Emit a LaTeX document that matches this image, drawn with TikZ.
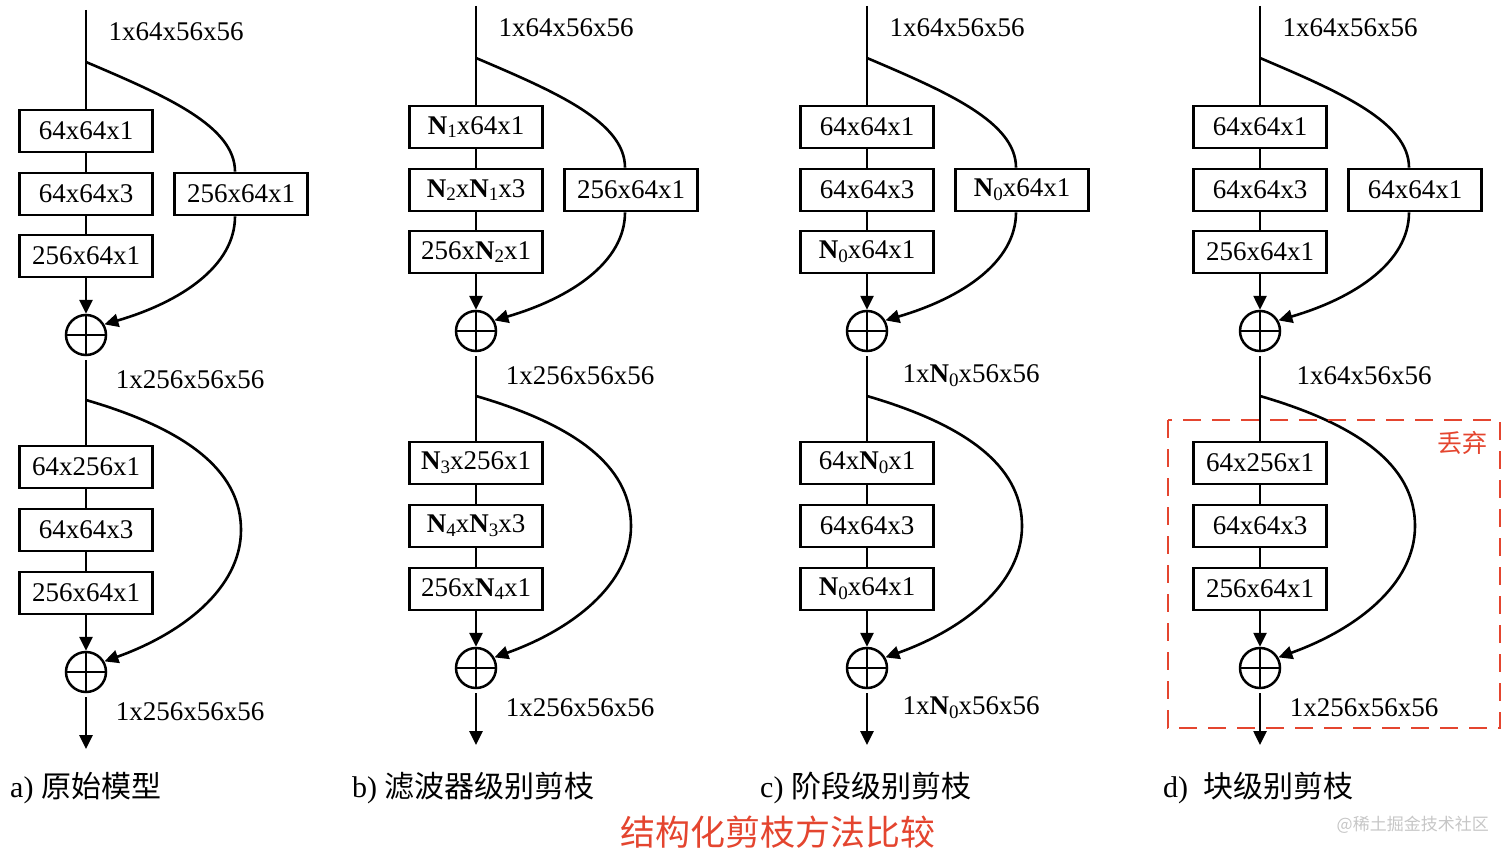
\documentclass[tikz,border=0pt]{standalone}
\usepackage{fontspec}
\setmainfont{Liberation Serif}
\newfontfamily\cjk{Noto Sans CJK SC}
\usetikzlibrary{arrows.meta}
\definecolor{dropred}{HTML}{E4452F}
\newcommand{\Nsub}[1]{\textbf{N}\raisebox{-0.3ex}{\fontsize{19}{20}\selectfont #1}}
\tikzset{
  conv/.style = {draw, line width=2.8pt, rectangle, inner sep=0pt, minimum width=133pt, minimum height=42pt, font=\fontsize{27}{30}\selectfont},
  addnode/.style = {draw, line width=2.5pt, circle, inner sep=0pt, minimum size=40pt,
    path picture={\draw[line width=2.5pt] (path picture bounding box.north) -- (path picture bounding box.south)
      (path picture bounding box.west) -- (path picture bounding box.east);}},
  shape lbl/.style = {inner sep=0pt, font=\fontsize{27}{30}\selectfont},
  flow/.style = {line width=2.6pt},
  flowarrow/.style = {line width=2.6pt, -{Triangle[length=14pt, width=13pt]}},
  caption/.style = {anchor=west, inner sep=0pt, font=\fontsize{30}{34}\selectfont},
  dropbox/.style = {draw=dropred, line width=2.6pt, dash pattern=on 18pt off 11pt}
}
\begin{document}
\begin{tikzpicture}[x=1pt, y=-1pt]
  \useasboundingbox (0,0) rectangle (1512,859);
  % one column per pruning scheme
  \foreach \col/\x/\dy/\bxa/\bxb/\bxc/\bxs/\bxd/\bxe/\bxf/\lbin/\lbmid/\lbout in {
      a/86/4/{64x64x1}/{64x64x3}/{256x64x1}/{256x64x1}/{64x256x1}/{64x64x3}/{256x64x1}/{1x64x56x56}/{1x256x56x56}/{1x256x56x56},
      b/476/0/{\Nsub{1}x64x1}/{\Nsub{2}x\Nsub{1}x3}/{256x\Nsub{2}x1}/{256x64x1}/{\Nsub{3}x256x1}/{\Nsub{4}x\Nsub{3}x3}/{256x\Nsub{4}x1}/{1x64x56x56}/{1x256x56x56}/{1x256x56x56},
      c/867/0/{64x64x1}/{64x64x3}/{\Nsub{0}x64x1}/{\Nsub{0}x64x1}/{64x\Nsub{0}x1}/{64x64x3}/{\Nsub{0}x64x1}/{1x64x56x56}/{1x\Nsub{0}x56x56}/{1x\Nsub{0}x56x56},
      d/1260/0/{64x64x1}/{64x64x3}/{256x64x1}/{64x64x1}/{64x256x1}/{64x64x3}/{256x64x1}/{1x64x56x56}/{1x64x56x56}/{1x256x56x56}} {
    \begin{scope}[yshift=-\dy pt]
      \coordinate (\col top) at (\x,6);
      \node[shape lbl] (\col in) at (\x+90,28) {\lbin};
      \coordinate (\col br1) at (\x,58);
      \node[conv] (\col b1) at (\x,127) {\bxa};
      \node[conv] (\col b2) at (\x,190) {\bxb};
      \node[conv] (\col b3) at (\x,252) {\bxc};
      \node[conv] (\col side) at (\x+155,190) {\bxs};
      \node[addnode] (\col p1) at (\x,331) {};
      \node[shape lbl] (\col mid) at (\x+104,376) {\lbmid};
      \coordinate (\col br2) at (\x,396);
      \node[conv] (\col b4) at (\x,463) {\bxd};
      \node[conv] (\col b5) at (\x,526) {\bxe};
      \node[conv] (\col b6) at (\x,589) {\bxf};
      \node[addnode] (\col p2) at (\x,668) {};
      \node[shape lbl] (\col out) at (\x+104,708) {\lbout};
      \coordinate (\col end) at (\x,745);
      % main path
      \draw[flow] (\col top) -- (\col b1) -- (\col b2) -- (\col b3);
      \draw[flowarrow] (\col b3) -- (\col p1);
      \draw[flow] ([yshift=-4pt]\col p1.south) -- (\col b4) -- (\col b5) -- (\col b6);
      \draw[flowarrow] (\col b6) -- (\col p2);
      \draw[flowarrow] ([yshift=-4pt]\col p2.south) -- (\col end);
      % shortcuts
      \draw[flow] (\col br1) .. controls (\x+80,92) and (\x+149,122) .. ([xshift=-6pt]\col side.north);
      \draw[flowarrow] ([xshift=-6pt]\col side.south) .. controls (\x+149,262) and (\x+95,298) .. (\col p1.30);
      \draw[flowarrow] (\col br2) .. controls (\x+110,428) and (\x+155,472) .. (\x+155,526)
        .. controls (\x+155,585) and (\x+95,630) .. (\col p2.30);
    \end{scope}
  }
  % dropped block
  \draw[dropbox] (1168,420) rectangle (1500,728);
  \node[inner sep=0pt, text=dropred, font=\cjk\fontsize{25}{28}\selectfont] (drop) at (1462,443) {丢弃};
  % captions
  \node[caption] (capa) at (10,788) {a) {\cjk 原始模型}};
  \node[caption] (capb) at (352,788) {b) {\cjk 滤波器级别剪枝}};
  \node[caption] (capc) at (760,788) {c) {\cjk 阶段级别剪枝}};
  \node[caption] (capd) at (1163,788) {d)~~{\cjk 块级别剪枝}};
  \node[inner sep=0pt, text=dropred, font=\cjk\fontsize{35}{40}\selectfont] (title) at (778,832) {结构化剪枝方法比较};
  \node[anchor=east, inner sep=0pt, text=gray!45, font=\cjk\fontsize{17}{20}\selectfont] (mark) at (1489,825) {@稀土掘金技术社区};
\end{tikzpicture}
\end{document}
